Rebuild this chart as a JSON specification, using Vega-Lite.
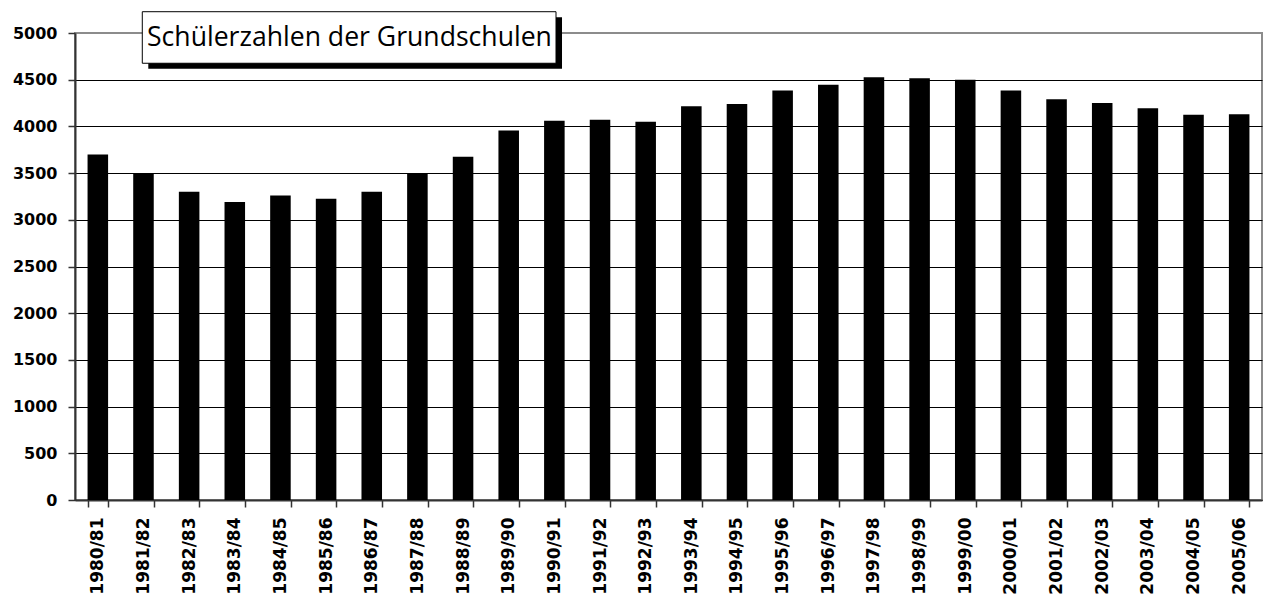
{
  "$schema": "https://vega.github.io/schema/vega-lite/v6.json",
  "width": 1187,
  "height": 467,
  "autosize": {"type": "none"},
  "padding": {"left": 75, "top": 33, "right": 1, "bottom": 99},
  "background": "white",
  "config": {"view": {"stroke": "#8c8c8c", "strokeWidth": 2}},
  "layer": [
    {
      "data": {
        "values": [
          {"jahr": "1980/81", "schueler": 3700},
          {"jahr": "1981/82", "schueler": 3500},
          {"jahr": "1982/83", "schueler": 3300},
          {"jahr": "1983/84", "schueler": 3190},
          {"jahr": "1984/85", "schueler": 3260},
          {"jahr": "1985/86", "schueler": 3225},
          {"jahr": "1986/87", "schueler": 3300},
          {"jahr": "1987/88", "schueler": 3490},
          {"jahr": "1988/89", "schueler": 3675},
          {"jahr": "1989/90", "schueler": 3955},
          {"jahr": "1990/91", "schueler": 4060},
          {"jahr": "1991/92", "schueler": 4070},
          {"jahr": "1992/93", "schueler": 4050},
          {"jahr": "1993/94", "schueler": 4215},
          {"jahr": "1994/95", "schueler": 4240},
          {"jahr": "1995/96", "schueler": 4385},
          {"jahr": "1996/97", "schueler": 4445},
          {"jahr": "1997/98", "schueler": 4525},
          {"jahr": "1998/99", "schueler": 4515},
          {"jahr": "1999/00", "schueler": 4500},
          {"jahr": "2000/01", "schueler": 4385},
          {"jahr": "2001/02", "schueler": 4290},
          {"jahr": "2002/03", "schueler": 4250},
          {"jahr": "2003/04", "schueler": 4195},
          {"jahr": "2004/05", "schueler": 4125},
          {"jahr": "2005/06", "schueler": 4130}
        ]
      },
      "mark": {"type": "bar", "color": "black"},
      "encoding": {
        "x": {
          "field": "jahr",
          "type": "nominal",
          "sort": null,
          "scale": {"paddingInner": 0.55, "paddingOuter": 0.275},
          "axis": {
            "title": null,
            "labelAngle": -90,
            "labelAlign": "right",
            "labelBaseline": "middle",
            "labelFont": "DejaVu Sans",
            "labelFontWeight": "bold",
            "labelFontSize": 17,
            "labelColor": "black",
            "labelPadding": 10,
            "labelOverlap": false,
            "tickBand": "extent",
            "tickSize": 7,
            "tickColor": "#333333",
            "tickWidth": 1.5,
            "domainColor": "#333333",
            "domainWidth": 2,
            "grid": false
          }
        },
        "y": {
          "field": "schueler",
          "type": "quantitative",
          "scale": {"domain": [0, 5000], "nice": false},
          "axis": {
            "title": null,
            "format": "d",
            "values": [0, 500, 1000, 1500, 2000, 2500, 3000, 3500, 4000, 4500, 5000],
            "labelFont": "DejaVu Sans",
            "labelFontWeight": "bold",
            "labelFontSize": 16,
            "labelColor": "black",
            "labelPadding": 11,
            "tickSize": 7,
            "tickColor": "#333333",
            "tickWidth": 1.5,
            "domainColor": "#333333",
            "domainWidth": 2,
            "grid": true,
            "gridColor": {"condition": {"test": "datum.value === 5000", "value": "#8c8c8c"}, "value": "#000000"},
            "gridWidth": 1
          }
        }
      }
    },
    {
      "data": {"values": [{"titel": "Schülerzahlen der Grundschulen"}]},
      "layer": [
        {
          "mark": {"type": "rect", "color": "black", "xOffset": 6, "x2Offset": 6, "yOffset": 5.5, "y2Offset": 5.5},
          "encoding": {
            "x": {"datum": 1.474, "type": "quantitative", "scale": {"domain": [0, 26], "nice": false, "zero": false}, "axis": null},
            "x2": {"datum": 10.536},
            "y": {"datum": 5228, "type": "quantitative", "scale": {"domain": [0, 5000], "nice": false}},
            "y2": {"datum": 4676}
          }
        },
        {
          "mark": {"type": "rect", "fill": "white", "stroke": "black", "strokeWidth": 1},
          "encoding": {
            "x": {"datum": 1.474, "type": "quantitative", "scale": {"domain": [0, 26], "nice": false, "zero": false}, "axis": null},
            "x2": {"datum": 10.536},
            "y": {"datum": 5228, "type": "quantitative", "scale": {"domain": [0, 5000], "nice": false}},
            "y2": {"datum": 4676}
          }
        },
        {
          "mark": {"type": "text", "align": "left", "baseline": "alphabetic", "font": "Open Sans", "fontSize": 26.6, "color": "black"},
          "encoding": {
            "x": {"datum": 1.577, "type": "quantitative", "scale": {"domain": [0, 26], "nice": false, "zero": false}, "axis": null},
            "y": {"datum": 4861, "type": "quantitative", "scale": {"domain": [0, 5000], "nice": false}},
            "text": {"field": "titel"}
          }
        }
      ]
    }
  ],
  "resolve": {"scale": {"x": "independent"}}
}
